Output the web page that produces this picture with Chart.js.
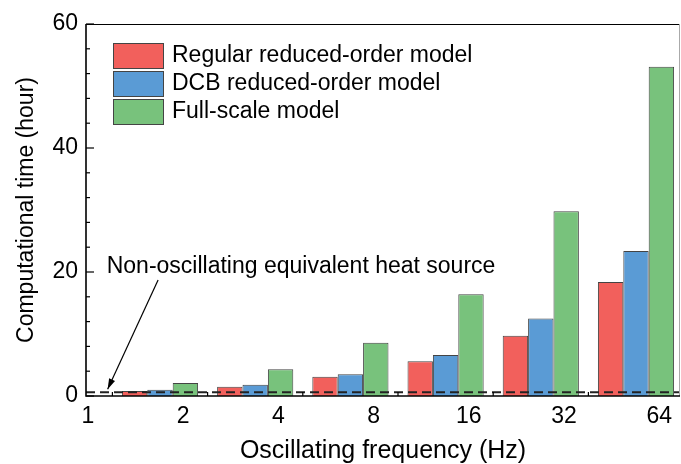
<!DOCTYPE html>
<html>
<head>
<meta charset="utf-8">
<script src="https://cdn.jsdelivr.net/npm/chart.js@4.4.0/dist/chart.umd.min.js"></script>
<style>
  html, body { margin: 0; padding: 0; background: #fff; overflow: hidden; }
  #wrap { width: 681px; height: 464px; }
</style>
</head>
<body>
<div id="wrap"><canvas id="chart" width="681" height="464"></canvas></div>
<script>
// Données
const frequencies = [2, 4, 8, 16, 32, 64];
const tickFrequencies = [1, 2, 4, 8, 16, 32, 64];
const regularTime = [0.8, 1.5, 3.1, 5.6, 9.7, 18.4];
const dcbTime = [1.0, 1.8, 3.5, 6.6, 12.5, 23.4];
const fullTime = [2.1, 4.3, 8.6, 16.4, 29.8, 53.1];
const equivalentTime = 0.6;
const seriesNames = ['Regular reduced-order model', 'DCB reduced-order model', 'Full-scale model'];
const seriesColors = ['#F2605C', '#5A9BD5', '#78C27C'];
const annotationText = 'Non-oscillating equivalent heat source';

const FONT = "'Liberation Sans', Arial, sans-serif";

function toPoints(values) {
    return frequencies.map((f, i) => ({ x: Math.log2(f), y: values[i] }));
}

// Légende, ligne pointillée, annotation, graduations internes et cadre
const decorPlugin = {
    id: 'decor',
    afterDatasetsDraw(chart) {
        const ctx = chart.ctx;
        const area = chart.chartArea;
        const xs = chart.scales.x;
        const ys = chart.scales.y;

        ctx.save();

        // ligne de la source de chaleur équivalente
        const yEq = ys.getPixelForValue(equivalentTime);
        ctx.strokeStyle = '#222';
        ctx.lineWidth = 2;
        ctx.setLineDash([9, 5]);
        ctx.beginPath();
        ctx.moveTo(area.left, yEq);
        ctx.lineTo(area.right, yEq);
        ctx.stroke();
        ctx.setLineDash([]);

        // annotation + flèche
        ctx.fillStyle = '#000';
        ctx.font = '23px ' + FONT;
        ctx.textAlign = 'left';
        ctx.textBaseline = 'middle';
        ctx.fillText(annotationText, xs.getPixelForValue(0.44), ys.getPixelForValue(20.8));

        const x0 = xs.getPixelForValue(0.98), y0 = ys.getPixelForValue(18.7);
        const x1 = xs.getPixelForValue(0.45), y1 = ys.getPixelForValue(1.1);
        ctx.strokeStyle = '#000';
        ctx.lineWidth = 1.2;
        ctx.beginPath();
        ctx.moveTo(x0, y0);
        ctx.lineTo(x1, y1);
        ctx.stroke();
        const ang = Math.atan2(y1 - y0, x1 - x0);
        ctx.beginPath();
        ctx.moveTo(x1, y1);
        ctx.lineTo(x1 - 11 * Math.cos(ang - 0.3), y1 - 11 * Math.sin(ang - 0.3));
        ctx.lineTo(x1 - 11 * Math.cos(ang + 0.3), y1 - 11 * Math.sin(ang + 0.3));
        ctx.closePath();
        ctx.fill();

        // légende
        ctx.font = '23px ' + FONT;
        seriesNames.forEach((name, i) => {
            const bx = area.left + 27;
            const by = area.top + 19 + i * 28;
            ctx.fillStyle = seriesColors[i];
            ctx.fillRect(bx, by, 50, 25);
            ctx.strokeStyle = '#444';
            ctx.lineWidth = 1;
            ctx.strokeRect(bx + 0.5, by + 0.5, 50, 25);
            ctx.fillStyle = '#000';
            ctx.fillText(name, bx + 59, by + 13);
        });

        // graduations vers l'intérieur
        ctx.strokeStyle = '#000';
        ctx.lineWidth = 1.2;
        for (let v = 0; v <= 60; v += 4) {
            const py = ys.getPixelForValue(v);
            const len = v % 20 === 0 ? 8 : 4;
            ctx.beginPath();
            ctx.moveTo(area.left, py);
            ctx.lineTo(area.left + len, py);
            ctx.stroke();
        }
        for (let k = 0; k < frequencies.length; k++) {
            const px = xs.getPixelForValue(Math.log2(frequencies[k]) - 0.5);
            ctx.beginPath();
            ctx.moveTo(px, area.bottom);
            ctx.lineTo(px, area.bottom - 4);
            ctx.stroke();
        }

        // cadre
        ctx.lineWidth = 1;
        ctx.strokeStyle = '#000';
        ctx.beginPath();
        ctx.moveTo(area.left, area.top + 0.5);
        ctx.lineTo(area.right, area.top + 0.5);
        ctx.stroke();
        ctx.strokeStyle = '#aaa';
        ctx.beginPath();
        ctx.moveTo(area.right - 0.5, area.top);
        ctx.lineTo(area.right - 0.5, area.bottom);
        ctx.stroke();
        ctx.strokeStyle = '#000';
        ctx.lineWidth = 1.6;
        ctx.beginPath();
        ctx.moveTo(area.left, area.top);
        ctx.lineTo(area.left, area.bottom);
        ctx.lineTo(area.right, area.bottom);
        ctx.stroke();

        ctx.restore();
    }
};

const ctx = document.getElementById('chart').getContext('2d');
const myChart = new Chart(ctx, {
    type: 'bar',
    data: {
        datasets: [regularTime, dcbTime, fullTime].map((vals, i) => ({
            label: seriesNames[i],
            data: toPoints(vals),
            backgroundColor: seriesColors[i],
            borderColor: '#444',
            borderWidth: 1,
            categoryPercentage: 0.8,
            barPercentage: 1.0,
            xAxisID: 'x',
            yAxisID: 'y'
        }))
    },
    options: {
        responsive: false,
        animation: false,
        layout: { padding: { top: 24, right: 1, left: 0, bottom: 0 } },
        plugins: {
            legend: { display: false },
            tooltip: { enabled: false }
        },
        scales: {
            x: {
                type: 'linear',
                display: false,
                offset: false,
                min: 0.2227,
                max: 6.4622,
                afterBuildTicks: (scale) => {
                    scale.ticks = frequencies.map(f => ({ value: Math.log2(f) }));
                }
            },
            x2: {
                type: 'linear',
                position: 'bottom',
                offset: false,
                min: -0.021,
                max: 6.218,
                afterBuildTicks: (scale) => {
                    scale.ticks = tickFrequencies.map(f => ({ value: Math.log2(f) }));
                },
                afterFit: (scale) => { scale.height = 68; },
                grid: { display: false, drawTicks: false },
                border: { display: false },
                ticks: {
                    autoSkip: false,
                    maxRotation: 0,
                    padding: 7,
                    color: '#000',
                    font: { family: FONT, size: 23 },
                    callback: (v) => String(Math.round(Math.pow(2, v)))
                },
                title: {
                    display: true,
                    text: 'Oscillating frequency (Hz)',
                    color: '#000',
                    font: { family: FONT, size: 25, lineHeight: 1 },
                    padding: { top: 0, bottom: 0 }
                }
            },
            y: {
                type: 'linear',
                min: 0,
                max: 60,
                afterFit: (scale) => { scale.width = 86; },
                grid: { display: false, drawTicks: false },
                border: { display: false },
                ticks: {
                    stepSize: 4,
                    autoSkip: false,
                    padding: 8,
                    color: '#000',
                    font: { family: FONT, size: 23 },
                    callback: (v) => (v % 20 === 0 ? String(v) : '')
                },
                title: {
                    display: true,
                    text: 'Computational time (hour)',
                    color: '#000',
                    font: { family: FONT, size: 23, lineHeight: 1 },
                    padding: { top: 15, bottom: 0 }
                }
            }
        }
    },
    plugins: [decorPlugin]
});
</script>
</body>
</html>
